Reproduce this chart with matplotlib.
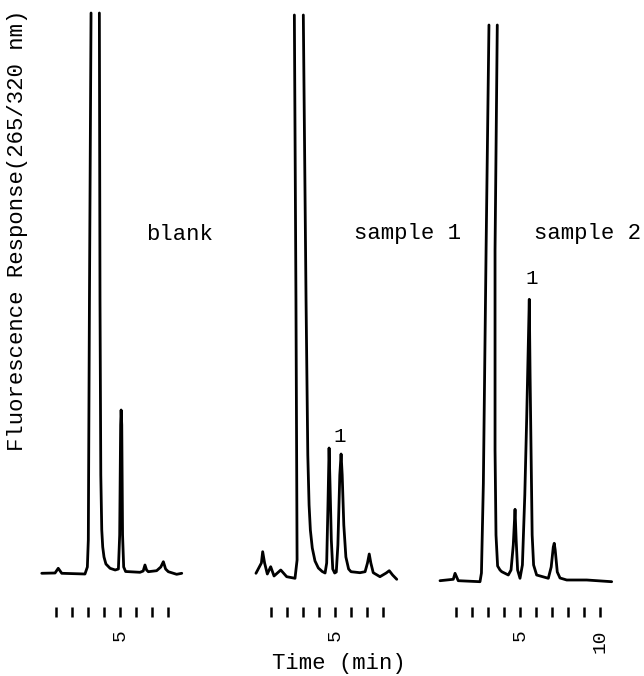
import numpy as np
import matplotlib
matplotlib.use("Agg")
import matplotlib.pyplot as plt

# traces: time (min), response (arbitrary units above baseline)
# nan marks where the solvent peak runs off the top of the paper
blank_t = [0.11, 0.94, 1.14, 1.36, 2.81, 2.96, 3.02, 3.09, 3.19, np.nan,
           3.71, 3.75, 3.80, 3.86, 3.92, 4.00, 4.12, 4.38, 4.70, 4.90,
           4.98, 5.04, 5.07, 5.11, 5.16, 5.23, 5.35,
           6.25, 6.45, 6.56, 6.66, 6.77, 7.29, 7.55, 7.71, 7.85, 8.02,
           8.54, 8.86]
blank_r = [1.7, 2.0, 6.7, 1.7, 1.0, 8.0, 35, 275, 562, np.nan,
           562, 275, 100, 45, 28, 18, 11, 6.7, 5.0, 6.0,
           40, 150, 165, 150, 40, 8.0, 3.5,
           2.7, 4.0, 10, 5.0, 3.3, 4.3, 8.0, 13.3, 6.0, 3.3,
           0.7, 1.7]

s1_t = [0.06, 0.40, 0.48, 0.60, 0.77, 0.98, 1.19, 1.61, 1.98, 2.50, 2.63,
        2.56, 2.46, np.nan,
        3.02, 3.19, 3.30, 3.38, 3.46, 3.58, 3.75, 3.96, 4.20, 4.38,
        4.48, 4.56, 4.63, 4.69, 4.77, 4.86, 4.98, 5.08, 5.18, 5.30,
        5.38, 5.45, 5.55, 5.68, 5.85, 6.00, 6.56, 6.88, 7.03, 7.14,
        7.24, 7.39, 7.81, 8.20, 8.39, 8.60, 8.86]
s1_r = [1.7, 12, 23.3, 12, 1.0, 8.3, -1.0, 5.0, -1.7, -3.3, 15,
        275, 560, np.nan,
        560, 275, 120, 70, 45, 27, 14, 7.0, 3.5, 2.0,
        12, 70, 127, 90, 35, 6.0, 2.0, 3.0, 30, 100,
        121, 100, 50, 18, 6.0, 3.3, 2.3, 3.3, 12, 21,
        12, 2.3, -1.7, 2.0, 4.3, 0.0, -4.3]

s2_t = [0.00, 0.83, 0.94, 1.14, 2.50, 2.59, 2.71, 2.88, 3.06, np.nan,
        3.58, 3.44, 3.44, 3.50, 3.60, 3.75, 3.86, 4.27, 4.44, 4.58,
        4.69, 4.76, 4.85, 5.00, 5.15, 5.30, 5.42, 5.58, 5.63, 5.69,
        5.76, 5.85, 6.04, 6.77, 6.95, 7.08, 7.14, 7.20, 7.33, 7.50,
        7.92, 9.17, 10.73]
s2_r = [-5.7, -4.3, 1.7, -5.7, -6.7, 2.0, 91.7, 325, 550, np.nan,
        550, 325, 125, 40, 9.0, 5.0, 3.3, 0.0, 5.0, 30,
        65.7, 35, 5.0, -3.3, 10, 80, 158, 275.7, 200, 125,
        40, 10, 0.0, -3.3, 8.0, 28, 31.7, 25, 3.0, -3.0,
        -5.0, -5.0, -6.7]

panel_names = ["blank", "sample 1", "sample 2"]
panel_ticks = [list(range(1, 9)), list(range(1, 9)), list(range(1, 11))]
panel_ticklabels = [["", "", "", "", "5", "", "", ""],
                    ["", "", "", "", "5", "", "", ""],
                    ["", "", "", "", "5", "", "", "", "", "10"]]
# peak "1" label positions (time, response)
peak1_t = [None, 5.31, 5.75]
peak1_r = [None, 138, 296]

W, H = 644, 676
fig = plt.figure(figsize=(W / 100, H / 100), dpi=100)
mono = "Liberation Mono"

# left pixel of t = 0 for each panel, 16 px per minute
x0_px = [40, 255, 440]
axis_px = 617
ylo, yhi = -42, 575

traces = [(blank_t, blank_r), (s1_t, s1_r), (s2_t, s2_r)]
for i, (t, r) in enumerate(traces):
    left = x0_px[i] - 8
    ax = fig.add_axes([left / W, (H - axis_px) / H, 192 / W, axis_px / H])
    ax.patch.set_visible(False)
    ax.plot(t, r, color="black", lw=2.0, solid_joinstyle="round",
            solid_capstyle="round")
    ax.set_xlim(-0.5, 11.5)
    ax.set_ylim(ylo, yhi)
    for s in ax.spines.values():
        s.set_visible(False)
    ax.set_yticks([])
    ax.set_xticks(panel_ticks[i])
    ax.set_xticklabels(panel_ticklabels[i], rotation=90, fontfamily=mono,
                       fontsize=14)
    ax.tick_params(axis="x", direction="in", length=7.2, width=1.8, pad=9)
    title_x = [8.69, 9.56, 9.19][i]
    ax.text(title_x, 341, panel_names[i], ha="center", va="center",
            fontfamily=mono, fontsize=16)
    if peak1_t[i] is not None:
        ax.text(peak1_t[i], peak1_r[i], "1", ha="center", va="center",
                fontfamily=mono, fontsize=15)

fig.text(18 / W, 1 - 230 / H, "Fluorescence Response(265/320 nm)",
         rotation=90, ha="center", va="center", fontfamily=mono, fontsize=16)
fig.text(339 / W, 1 - 663 / H, "Time (min)", ha="center", va="center",
         fontfamily=mono, fontsize=16)

fig.savefig("out.png", dpi=100)
